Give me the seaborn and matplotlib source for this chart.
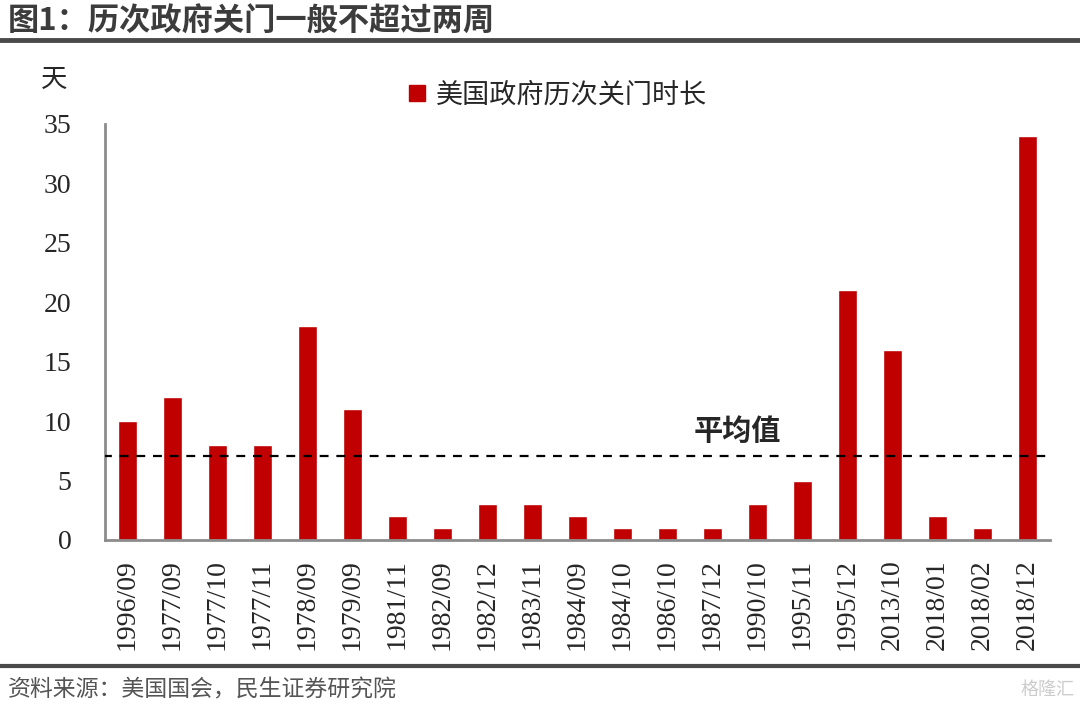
import matplotlib
matplotlib.use("Agg")
import matplotlib.pyplot as plt
import seaborn as sns
import pandas as pd
from matplotlib.lines import Line2D
from matplotlib.ticker import FixedLocator

# data
dates = ["1996/09", "1977/09", "1977/10", "1977/11", "1978/09", "1979/09",
         "1981/11", "1982/09", "1982/12", "1983/11", "1984/09", "1984/10",
         "1986/10", "1987/12", "1990/10", "1995/11", "1995/12", "2013/10",
         "2018/01", "2018/02", "2018/12"]
days = [10, 12, 8, 8, 18, 11, 2, 1, 3, 3, 2, 1, 1, 1, 3, 5, 21, 16, 2, 1, 34]
avg_line = 7.1
yticks = [0, 5, 10, 15, 20, 25, 30, 35]

sns.set_style("white")
plt.rcParams['font.family'] = ['Liberation Serif', 'Noto Sans CJK SC', 'DejaVu Sans']
cjk = ['Noto Sans CJK SC', 'DejaVu Sans']

df = pd.DataFrame({"date": dates, "days": days})

fig = plt.figure(figsize=(10.8, 7.08), dpi=100)
ax = fig.add_axes([0.0972, 0.2373, 0.875, 0.5876])

sns.barplot(data=df, x="date", y="days", order=dates, color="#C00000",
            width=0.42, saturation=1, ax=ax)

ax.axhline(avg_line, xmin=-0.002, xmax=0.998, color="black", lw=1.6,
           ls=(0, (4, 3.5)), zorder=3)
ax.text(13.55, avg_line + 0.8, "平均值", family=cjk, fontsize=21,
        fontweight="bold", ha="center", va="bottom")

ax.set_xlim(-0.5, len(dates) - 0.5)
ax.set_ylim(0, 35)
ax.set_yticks(yticks)
ax.set_xlabel("")
ax.set_ylabel("")
for s in ["top", "right"]:
    ax.spines[s].set_visible(False)
for s in ["left", "bottom"]:
    ax.spines[s].set_color("#8c8c8c")
    ax.spines[s].set_linewidth(2)

ax.tick_params(axis="y", direction="in", length=7, width=2, color="#8c8c8c",
               labelsize=20, pad=24)
ax.tick_params(axis="x", which="major", length=0, labelsize=20, pad=14,
               labelrotation=90)
ax.xaxis.set_minor_locator(FixedLocator([i + 0.5 for i in range(len(dates) - 1)]))
ax.tick_params(axis="x", which="minor", direction="in", length=8, width=2,
               color="#8c8c8c")

fig.text(0.038, 0.888, "天", family=cjk, fontsize=19, ha="left", va="center")

handle = Line2D([], [], marker="s", ls="", color="#C00000", markersize=12)
fig.legend([handle], ["美国政府历次关门时长"], loc="center",
           bbox_to_anchor=(0.513, 0.866), frameon=False,
           prop={"family": cjk, "size": 19.5}, handletextpad=0.1,
           handlelength=1.2, borderaxespad=0)

# title band and source band
fig.text(0.007, 0.97, "图1：历次政府关门一般不超过两周", family=cjk, fontsize=22.5,
         fontweight="bold", color="#3c3c3c", ha="left", va="center")
fig.add_artist(Line2D([0, 1], [0.944, 0.944], color="#4a4a4a", lw=3.5))
fig.add_artist(Line2D([0, 1], [0.059, 0.059], color="#4a4a4a", lw=3))
fig.text(0.007, 0.025, "资料来源：美国国会，民生证券研究院", family=cjk, fontsize=16.5,
         color="#555555", ha="left", va="center")
fig.text(0.995, 0.025, "格隆汇", family=cjk, fontsize=13, color="#cccccc",
         ha="right", va="center")

fig.savefig("out.png", dpi=100)
